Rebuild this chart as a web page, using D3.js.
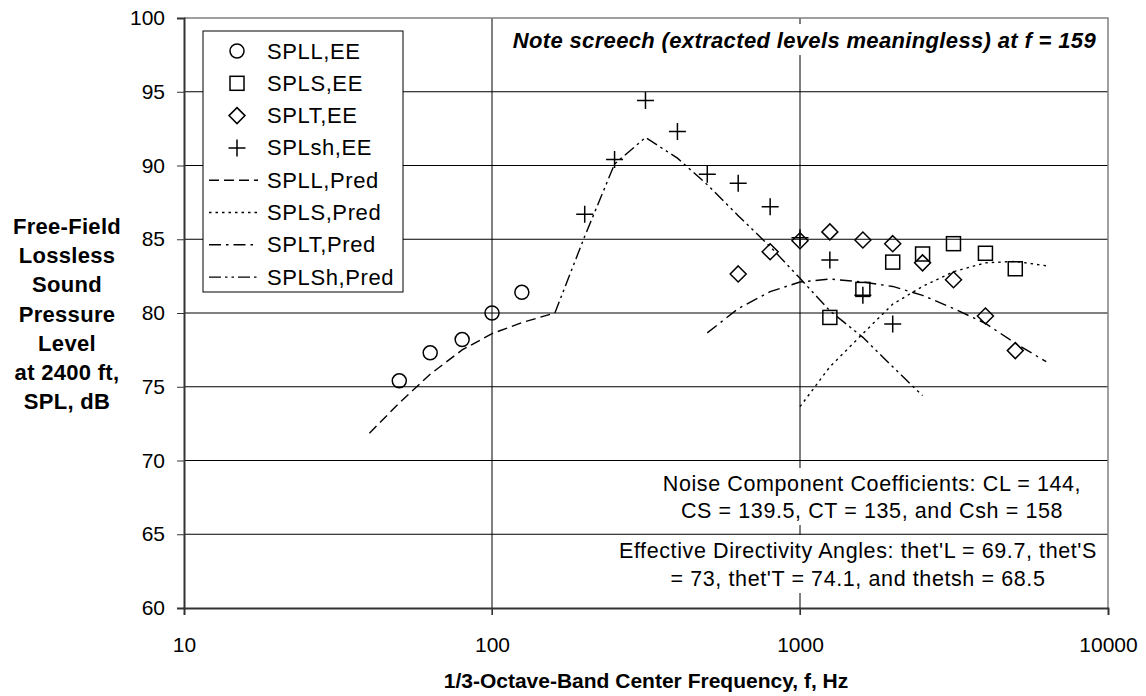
<!DOCTYPE html>
<html>
<head>
<meta charset="utf-8">
<script src="https://cdn.jsdelivr.net/npm/d3@7"></script>
<style>
  body { margin: 0; background: #fff; }
  svg { font-family: "Liberation Sans", Arial, sans-serif; }
</style>
</head>
<body>
<div id="chart"></div>
<script>
// measured (EE) levels
const spllFreq = [50, 63, 80, 100, 125];
const spllEE = [75.4, 77.3, 78.2, 80.0, 81.4];

const splsFreq = [1250, 1600, 2000, 2500, 3150, 4000, 5000];
const splsEE = [79.7, 81.6, 83.45, 84.0, 84.7, 84.05, 83.0];

const spltFreq = [630, 800, 1000, 1250, 1600, 2000, 2500, 3150, 4000, 5000];
const spltEE = [82.65, 84.15, 84.9, 85.5, 84.95, 84.7, 83.4, 82.25, 79.8, 77.45];

const splshFreq = [200, 250, 315, 400, 500, 630, 800, 1000, 1250, 1600, 2000];
const splshEE = [86.7, 90.4, 94.4, 92.3, 89.4, 88.8, 87.2, 85.1, 83.6, 81.2, 79.25];

// predicted levels
const spllPredFreq = [40, 50, 63, 80, 100, 125, 160];
const spllPred = [71.85, 73.9, 75.85, 77.5, 78.6, 79.35, 80.0];

const splsPredFreq = [1000, 1250, 1600, 2000, 2500, 3150, 4000, 5000, 6300];
const splsPred = [73.65, 76.35, 78.6, 80.6, 81.8, 82.8, 83.4, 83.5, 83.2];

const spltPredFreq = [500, 630, 800, 1000, 1250, 1600, 2000, 2500, 3150, 4000, 5000, 6300];
const spltPred = [78.65, 80.3, 81.45, 82.1, 82.3, 82.1, 81.8, 81.2, 80.3, 79.3, 77.95, 76.7];

const splshPredFreq = [160, 200, 250, 315, 400, 500, 630, 800, 1000, 1250, 1600, 2000, 2500];
const splshPred = [80.0, 85.2, 90.1, 91.9, 90.5, 88.7, 86.6, 84.5, 82.35, 80.15, 78.35, 76.35, 74.4];

const xTicks = [10, 100, 1000, 10000];
const yTicks = [60, 65, 70, 75, 80, 85, 90, 95, 100];

const legendLabels = ['SPLL,EE', 'SPLS,EE', 'SPLT,EE', 'SPLsh,EE',
  'SPLL,Pred', 'SPLS,Pred', 'SPLT,Pred', 'SPLSh,Pred'];

const noteText = 'Note screech (extracted levels meaningless) at f = 159';
const coefLines = ['Noise Component Coefficients: CL = 144,', 'CS = 139.5, CT = 135, and Csh = 158'];
const angleLines = ["Effective Directivity Angles: thet'L = 69.7, thet'S", "= 73, thet'T = 74.1, and thetsh = 68.5"];

const W = 1146, H = 696;
const pLeft = 184, pRight = 1108, pTop = 18, pBottom = 608;

const svg = d3.select('#chart').append('svg')
  .attr('width', W).attr('height', H);

const x = d3.scaleLog().domain([10, 10000]).range([pLeft, pRight]);
const y = d3.scaleLinear().domain([60, 100]).range([pBottom, pTop]);

// gridlines
svg.append('g').selectAll('line')
  .data(yTicks.filter(d => d > 60 && d < 100))
  .join('line')
  .attr('x1', pLeft).attr('x2', pRight)
  .attr('y1', d => y(d)).attr('y2', d => y(d))
  .attr('stroke', '#000').attr('stroke-width', 1);

svg.append('g').selectAll('line')
  .data([100, 1000])
  .join('line')
  .attr('x1', d => x(d)).attr('x2', d => x(d))
  .attr('y1', pTop).attr('y2', pBottom + 7)
  .attr('stroke', '#000').attr('stroke-width', 1);

// frame top/right
svg.append('path')
  .attr('d', `M${pLeft},${pTop}H${pRight}V${pBottom}`)
  .attr('fill', 'none').attr('stroke', '#808080').attr('stroke-width', 1.5);

// axes
const yAxis = svg.append('g')
  .attr('transform', `translate(${pLeft},0)`)
  .call(d3.axisLeft(y).tickValues(yTicks).tickSize(7).tickPadding(12).tickFormat(d3.format('d')));
const xAxis = svg.append('g')
  .attr('transform', `translate(0,${pBottom})`)
  .call(d3.axisBottom(x).tickValues(xTicks).tickSize(7).tickPadding(22).tickFormat(d3.format('d')));

[yAxis, xAxis].forEach(a => {
  a.select('.domain').attr('stroke', '#333').attr('stroke-width', 2);
  a.selectAll('.tick line').attr('stroke', '#333');
  a.selectAll('.tick text').attr('font-size', 21).attr('fill', '#000')
    .attr('font-family', '"Liberation Sans", Arial, sans-serif');
});

// text boxes with white background
function textBox(lines, cx, baselines, opts) {
  const g = svg.append('g');
  const t = g.append('text')
    .attr('text-anchor', opts.anchor || 'middle')
    .attr('font-size', opts.size || 21.5)
    .attr('letter-spacing', opts.spacing != null ? opts.spacing : 0.6)
    .attr('font-weight', opts.bold ? 'bold' : 'normal')
    .attr('font-style', opts.italic ? 'italic' : 'normal');
  lines.forEach((l, i) => t.append('tspan').attr('x', cx).attr('y', baselines[i]).text(l));
  const bb = t.node().getBBox();
  const x0 = opts.x0 != null ? opts.x0 : bb.x - 6;
  const x1 = opts.x1 != null ? opts.x1 : bb.x + bb.width + 6;
  g.insert('rect', 'text')
    .attr('x', x0)
    .attr('y', bb.y - 4)
    .attr('width', x1 - x0)
    .attr('height', bb.height + 6)
    .attr('fill', '#fff');
}

textBox([noteText], 1096, [48], { bold: true, italic: true, anchor: 'end', size: 22, spacing: 0.35 });
textBox(coefLines, 872, [491, 518], { x1: pRight - 3 });
textBox(angleLines, 858, [558, 586], { x1: pRight - 3 });

// predicted lines
const line = d3.line().x(d => x(d[0])).y(d => y(d[1]));
const predSeries = [
  { f: spllPredFreq, v: spllPred, dash: '10,5' },
  { f: splsPredFreq, v: splsPred, dash: '2.5,4' },
  { f: spltPredFreq, v: spltPred, dash: '12,5,2.5,5' },
  { f: splshPredFreq, v: splshPred, dash: '12,4,2.5,4,2.5,4' },
];
predSeries.forEach(s => {
  svg.append('path')
    .datum(d3.zip(s.f, s.v))
    .attr('d', line)
    .attr('fill', 'none')
    .attr('stroke', '#000')
    .attr('stroke-width', 1.4)
    .attr('stroke-dasharray', s.dash);
});

// markers
function marker(sel, type) {
  if (type === 'circle') {
    sel.append('circle').attr('r', 7);
  } else if (type === 'square') {
    sel.append('rect').attr('x', -7).attr('y', -7).attr('width', 14).attr('height', 14);
  } else if (type === 'diamond') {
    sel.append('path').attr('d', 'M0,-8L8,0L0,8L-8,0Z');
  } else {
    sel.append('path').attr('d', 'M-8.5,0H8.5M0,-8.5V8.5');
  }
  sel.selectAll('*').attr('fill', 'none').attr('stroke', '#000').attr('stroke-width', 1.5);
}

const eeSeries = [
  { f: spllFreq, v: spllEE, type: 'circle' },
  { f: splsFreq, v: splsEE, type: 'square' },
  { f: spltFreq, v: spltEE, type: 'diamond' },
  { f: splshFreq, v: splshEE, type: 'plus' },
];
eeSeries.forEach(s => {
  svg.append('g').selectAll('g')
    .data(d3.zip(s.f, s.v))
    .join('g')
    .attr('transform', d => `translate(${x(d[0])},${y(d[1])})`)
    .each(function () { marker(d3.select(this), s.type); });
});

// legend
const legend = svg.append('g').attr('transform', 'translate(203,31)');
legend.append('rect')
  .attr('width', 200).attr('height', 261)
  .attr('fill', '#fff').attr('stroke', '#000').attr('stroke-width', 1);

legendLabels.forEach((label, i) => {
  const cy = 20 + i * 32.3;
  const g = legend.append('g').attr('transform', `translate(0,${cy})`);
  if (i < 4) {
    const m = g.append('g').attr('transform', 'translate(34,0)');
    marker(m, eeSeries[i].type);
  } else {
    g.append('line').attr('x1', 6).attr('x2', 55).attr('y1', 0).attr('y2', 0)
      .attr('stroke', '#000').attr('stroke-width', 1.4)
      .attr('stroke-dasharray', predSeries[i - 4].dash);
  }
  g.append('text').attr('x', 64).attr('y', 7.5)
    .attr('font-size', 22).attr('letter-spacing', 0.6).text(label);
});

// axis titles
const yTitle = ['Free-Field', 'Lossless', 'Sound', 'Pressure', 'Level', 'at 2400 ft,', 'SPL, dB'];
const yt = svg.append('text').attr('text-anchor', 'middle')
  .attr('font-size', 22).attr('font-weight', 'bold').attr('letter-spacing', 0.3);
yTitle.forEach((l, i) => yt.append('tspan').attr('x', 67).attr('y', 234 + i * 29.2).text(l));

svg.append('text').attr('x', 646).attr('y', 688)
  .attr('text-anchor', 'middle').attr('font-size', 21).attr('font-weight', 'bold')
  .text('1/3-Octave-Band Center Frequency, f, Hz');
</script>
</body>
</html>
